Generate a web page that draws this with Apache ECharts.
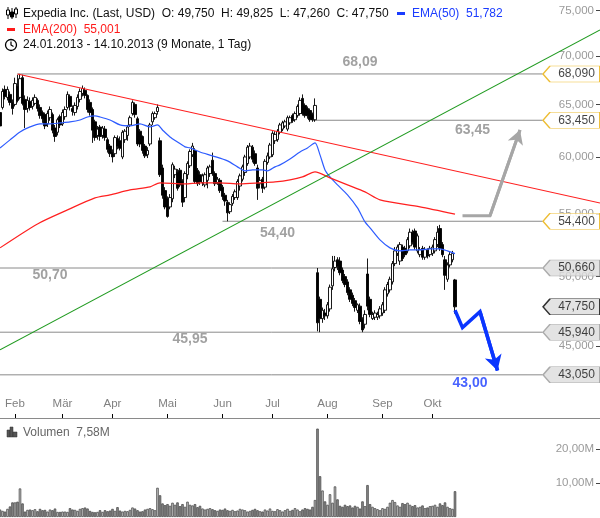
<!DOCTYPE html>
<html><head><meta charset="utf-8">
<script src="https://cdn.jsdelivr.net/npm/echarts@6.0.0/dist/echarts.min.js"></script>
<style>html,body{margin:0;padding:0;background:#fff}#c{width:600px;height:518px}</style>
</head><body><div id="c"></div><script>
// ---------- DATA ----------
const startDate = '2013-01-24';
const holidays = ['2013-02-18','2013-03-29','2013-05-27','2013-07-04','2013-09-02','2013-11-28','2013-12-25'];
const monthNames = ['Jan','Feb','Mär','Apr','Mai','Jun','Jul','Aug','Sep','Okt','Nov','Dez'];
const lastDataIndex = 182;
// [open, close, low, high]
const candles = [
[64.2,62.9,62.6,64.6],[64.7,66.3,64.5,66.6],[66.5,65.8,65.5,66.9],[65.7,66.5,65.4,66.8],[66.0,65.2,64.9,66.3],
[65.2,64.6,64.0,65.5],[65.0,67.1,64.8,67.7],[66.8,65.4,65.2,68.0],[65.7,67.6,65.5,68.09],[67.7,65.1,64.9,68.0],
[65.5,64.5,62.7,65.9],[64.6,65.4,64.2,65.8],[65.3,64.7,64.4,65.7],[64.8,65.4,64.5,65.7],[65.1,65.7,64.9,66.0],
[65.4,64.6,64.3,65.6],[64.7,63.9,63.6,65.0],[64.2,63.6,63.2,64.4],[64.0,62.9,62.6,64.2],[63.1,64.1,62.8,64.4],
[63.7,64.5,63.4,64.8],[64.0,62.5,62.2,64.2],[62.7,61.9,61.4,63.0],[62.3,63.5,62.0,63.7],[63.8,63.0,62.7,64.0],
[63.1,64.2,62.9,64.5],[63.8,64.5,63.5,64.8],[64.7,66.0,64.5,66.3],[65.8,64.8,64.4,66.0],[64.6,64.3,63.9,64.9],
[64.2,64.9,63.9,65.2],[64.8,65.7,64.5,66.0],[65.5,66.3,65.2,66.6],[66.1,66.6,65.8,66.9],[66.4,65.9,65.6,66.7],
[65.9,64.5,64.2,66.0],[65.2,64.2,63.9,65.5],[64.5,62.5,61.3,64.7],[63.3,61.8,61.5,63.5],[62.0,62.6,61.6,62.9],
[62.8,61.9,61.5,63.0],[62.0,62.7,61.7,62.9],[62.6,61.8,61.5,62.9],[61.6,60.7,60.4,61.8],[61.0,60.3,60.0,61.2],
[60.4,60.0,59.5,60.7],[60.3,61.8,60.0,62.0],[61.7,61.0,60.7,62.0],[61.5,60.8,60.6,61.9],[60.0,62.3,59.8,62.5],
[61.6,62.4,61.3,62.6],[62.0,62.8,61.5,63.0],[63.0,63.7,62.8,63.9],[64.1,65.2,63.9,65.4],[65.0,64.0,63.7,65.2],
[63.6,61.2,61.0,63.8],[62.4,61.2,60.9,62.6],[61.9,60.6,60.3,62.0],[61.0,60.1,59.9,61.2],[60.2,60.6,59.9,60.9],
[61.2,63.0,61.0,63.2],[63.3,64.1,63.0,64.3],[63.7,64.1,63.5,64.3],[64.3,64.7,64.0,65.0],[61.5,58.4,58.2,61.8],
[59.0,56.6,56.3,59.3],[57.0,55.6,55.4,57.3],[56.3,54.8,54.7,56.5],[55.6,56.4,55.4,56.7],[56.3,59.3,56.0,59.5],
[58.4,58.9,58.1,59.2],[58.6,57.2,57.0,58.9],[58.8,57.5,57.3,59.0],[57.8,56.0,55.6,58.0],[56.4,58.5,56.0,58.7],
[58.4,59.4,58.0,59.6],[59.2,60.5,59.0,60.7],[60.2,61.0,60.0,61.3],[60.6,57.8,57.6,60.8],[58.8,57.6,57.4,59.0],
[58.4,57.8,57.5,58.7],[57.7,58.3,57.4,58.5],[57.5,58.4,57.3,58.6],[57.9,59.0,57.2,59.2],[58.5,59.1,58.2,59.3],
[59.7,58.5,58.3,60.4],[58.5,57.6,57.4,58.7],[57.7,58.0,57.5,58.2],[57.9,57.0,56.8,58.1],[57.3,56.5,56.2,57.5],
[56.6,56.1,55.7,56.8],[56.0,55.1,54.4,56.2],[55.2,55.8,55.0,56.0],[55.9,56.5,55.7,56.7],[56.4,56.9,56.2,57.1],
[56.4,57.8,56.2,58.0],[57.4,58.3,57.0,58.5],[58.0,59.1,57.8,59.3],[58.6,60.0,58.3,60.2],[59.4,60.9,59.2,61.1],
[60.0,61.0,59.8,61.3],[60.9,59.8,59.5,61.1],[60.3,59.4,59.2,60.6],[59.0,57.2,56.2,59.3],[57.6,57.9,57.2,58.2],
[58.0,57.2,56.8,58.2],[57.3,59.6,57.1,59.8],[59.5,60.1,59.3,60.4],[60.0,61.1,59.8,61.3],[60.2,62.2,60.0,62.4],
[61.5,62.1,61.2,62.4],[61.6,62.4,61.4,62.6],[62.3,63.0,62.1,63.2],[62.6,63.2,62.4,63.4],[62.9,63.3,62.7,63.5],
[62.6,63.7,62.4,63.9],[63.2,63.7,63.0,63.9],[63.9,63.4,63.2,64.1],[63.5,64.1,63.3,64.3],[63.9,64.8,63.7,65.0],
[64.1,65.4,63.9,65.7],[65.6,64.1,63.9,66.0],[64.9,63.9,63.7,65.1],[64.6,63.9,63.6,64.8],[64.4,63.5,63.3,64.6],
[64.0,63.5,63.3,64.2],[63.5,64.9,63.3,65.6],[50.3,46.6,46.0,50.66],[48.3,46.9,45.94,48.5],[46.9,47.5,46.6,47.7],
[47.3,47.1,46.8,47.6],[47.1,47.9,46.9,48.1],[47.6,49.2,47.4,49.4],[49.3,50.6,49.0,51.6],[50.7,51.2,50.4,51.6],
[51.3,50.8,50.5,51.5],[51.2,50.3,50.1,51.5],[50.5,49.7,49.5,50.7],[50.0,49.4,49.2,50.2],[49.6,48.8,48.6,49.8],
[49.0,48.3,48.1,49.2],[48.6,48.0,47.8,48.8],[48.2,47.7,47.4,48.4],[47.5,47.9,47.3,48.0],[47.8,46.7,46.5,48.0],
[46.8,46.1,45.94,47.0],[46.5,47.2,46.2,47.5],[50.2,47.8,47.5,51.4],[48.3,47.2,47.0,48.5],[46.9,47.2,46.8,47.4],
[47.0,47.3,46.8,47.5],[47.0,47.2,46.8,47.4],[47.1,47.6,46.9,47.8],[47.3,47.9,47.1,48.1],[47.5,49.0,47.3,49.2],
[48.7,49.4,48.5,49.6],[49.0,49.8,48.8,50.0],[49.6,51.0,49.4,51.2],[51.0,52.0,50.8,52.3],[51.8,52.3,51.6,52.5],
[51.2,52.5,50.9,52.7],[52.3,51.4,51.2,52.5],[52.2,51.7,51.5,52.4],[52.0,52.9,51.8,53.1],[52.4,53.5,52.2,53.8],
[53.5,52.7,52.5,53.7],[53.6,52.3,52.1,53.8],[52.0,53.2,51.8,53.4],[51.7,52.1,51.5,52.3],[52.2,51.5,51.3,52.4],
[51.5,52.1,51.3,52.3],[52.0,51.6,51.4,52.2],[51.7,52.2,51.5,52.4],[51.8,52.3,51.6,52.5],[52.0,52.9,51.8,53.1],
[52.5,53.5,52.3,54.0],[53.8,52.2,52.0,54.1],[52.5,51.7,51.5,52.7],[51.3,50.1,49.0,51.6],[49.8,50.9,49.6,51.1],
[50.9,51.7,50.7,51.9],[51.3,51.8,51.1,52.0],[49.75,47.75,47.26,49.825]
];
// volume in millions
const volume = [
2.2,1.8,1.6,2.4,3.1,4.3,4.3,4.5,8.4,4.0,
1.6,2.1,2.2,2.0,2.3,1.7,2.4,2.0,2.1,1.6,
2.2,2.0,2.5,1.5,1.5,1.6,1.6,1.5,2.6,2.2,
2.1,1.8,2.4,2.6,2.8,2.5,1.8,1.5,1.4,1.5,
2.0,1.5,2.0,1.7,1.9,2.4,1.8,2.9,1.9,1.6,
1.8,1.7,2.1,2.8,2.5,2.0,1.6,1.7,2.2,2.4,
2.6,2.3,2.0,8.6,6.4,4.0,3.5,3.8,3.3,4.2,
3.6,4.3,3.2,3.8,3.0,4.5,3.6,3.4,3.8,2.9,
3.3,2.5,2.2,2.4,2.6,2.3,2.0,1.8,2.2,2.1,
2.5,2.0,1.8,2.1,1.7,1.9,2.4,2.2,2.0,1.6,
1.8,2.1,2.4,2.0,1.7,1.6,2.2,1.9,2.5,1.8,
1.7,2.3,2.0,1.6,2.0,2.4,1.8,2.1,2.6,2.2,
1.7,2.2,2.6,2.4,2.2,3.0,5.0,26.0,12.0,7.8,
4.6,3.6,6.7,4.2,9.0,5.2,3.3,3.0,3.6,3.2,
3.4,2.8,3.3,3.0,2.5,4.6,3.2,9.4,3.8,3.0,
2.6,2.3,2.0,2.6,2.4,3.0,4.2,5.0,4.4,3.4,
3.0,4.1,3.8,4.2,3.6,3.2,3.5,2.8,3.0,3.4,
2.6,2.8,3.2,3.3,3.6,3.0,4.0,3.5,4.3,3.0,
2.6,2.4,7.58
];
// [day index, value]
const ema50 = [[0,60.83],[4,61.58],[8,62.33],[12,62.81],[16,63.10],[20,63.10],[24,63.19],[28,63.29],[32,63.48],[35,63.77],[38,63.87],[40,63.77],[44,63.48],[48,63.00],[52,62.91],[56,63.10],[60,62.81],[63,63.00],[65,62.52],[68,61.86],[71,61.39],[74,60.93],[76,60.83],[80,60.46],[85,60.10],[91,59.64],[95,59.10],[98,58.74],[101,58.83],[105,58.83],[107,58.74],[110,59.10],[112,59.28],[116,59.82],[120,60.46],[123,60.83],[126,61.30],[128,60.19],[130,58.83],[132,58.20],[135,57.50],[139,56.63],[143,55.52],[146,54.35],[148,53.86],[152,52.88],[156,52.24],[160,52.00],[164,52.08],[168,52.08],[172,52.16],[176,52.16],[179,52.00],[182,51.78]];
const ema200 = [[0,52.24],[15,54.18],[27,55.35],[38,56.37],[44,56.63],[52,57.06],[60,57.33],[64,57.68],[74,57.59],[80,57.68],[88,57.68],[96,57.59],[104,57.68],[110,57.76],[116,57.94],[121,58.20],[126,58.65],[132,58.12],[139,57.50],[146,56.89],[152,56.20],[168,55.61],[182,55.00]];
const redTrend = [[7,68.09],[240,55.94]];
const greenTrend = [[0,44.72],[240,72.81]];
const levels = [{v:68.09,from:7},{v:63.45,from:125},{v:54.40,from:89},{v:50.66,from:0},{v:45.94,from:0},{v:43.05,from:0}];
const levelEnd = 217;
const tagValues = [68.09,63.45,54.40,50.66,47.75,45.94,43.05];
const tagKinds  = ['level','level','level','gray','last','gray','gray'];
const annotations = [
  {text:'68,09', i:144, v:69.35, color:'#8a8a8a'},
  {text:'63,45', i:189, v:62.52, color:'#8a8a8a'},
  {text:'54,40', i:111, v:53.44, color:'#8a8a8a'},
  {text:'50,70', i:20,  v:50.14, color:'#8a8a8a'},
  {text:'45,95', i:76,  v:45.49, color:'#8a8a8a'},
  {text:'43,00', i:188, v:42.52, color:'#1a3cff'}
];
const grayArrow = [[185,54.86],[196,54.86],[208,62.52]];
const blueArrow = [[182,47.50],[185,46.26],[192,47.40],[199,43.34]];
const priceTicks = [45,50,55,60,65,70,75];
const volumeTicks = [10,20];
const header = {name:'Expedia Inc. (Last, USD)', o:'49,750', h:'49,825', l:'47,260', c:'47,750', ema50:'51,782', ema200:'55,001', range:'24.01.2013 - 14.10.2013 (9 Monate, 1 Tag)', vol:'7,58M'};

// ---------- BUILD ----------
function pad(n){return (n<10?'0':'')+n;}
const categories = [];
(function(){
  let d = new Date(startDate+'T00:00:00Z');
  while (categories.length < 241) {
    const s = d.getUTCFullYear()+'-'+pad(d.getUTCMonth()+1)+'-'+pad(d.getUTCDate());
    const wd = d.getUTCDay();
    if (wd !== 0 && wd !== 6 && holidays.indexOf(s) < 0) categories.push(s);
    d = new Date(d.getTime()+86400000);
  }
})();
function monthOf(s){return parseInt(s.slice(5,7),10)-1;}
function isMonthStart(idx){
  return idx>0 && idx<=lastDataIndex && monthOf(categories[idx])!==monthOf(categories[idx-1]);
}
function fmt(v,d){return v.toFixed(d).replace('.',',');}
const FONT = '"Liberation Sans", Arial, sans-serif';

const volData = volume.map((v,i)=>({
  value:v,
  itemStyle:{color: candles[i][1] < candles[i][0] ? '#8e8e8e' : '#c4c4c4'}
}));

const tagStyles = {
  level:{fill:'#ffffff', stroke:'#e8ad00'},
  gray:{fill:'#dcdcdc', stroke:'#9a9a9a'},
  last:{fill:'#dcdcdc', stroke:'#000000'}
};
const tagData = tagValues.map((v,k)=>({
  value:[228, v],
  itemStyle:{color:tagStyles[tagKinds[k]].fill, borderColor:tagStyles[tagKinds[k]].stroke, borderWidth:1},
  label:{formatter: fmt(v,3)}
}));

const series = [];
levels.forEach(l=>{
  series.push({type:'line', xAxisIndex:0, yAxisIndex:0, data:[[l.from,l.v],[levelEnd,l.v]], symbol:'none',
    lineStyle:{color:'#8a8a8a', width:1}, z:1, silent:true});
});
series.push({type:'candlestick', xAxisIndex:0, yAxisIndex:0, data:candles, barWidth:2.6,
  itemStyle:{color:'#ffffff', color0:'#000000', borderColor:'#000000', borderColor0:'#000000', borderWidth:0.9}, z:3});
series.push({type:'line', data:ema50, symbol:'none', smooth:0.25, lineStyle:{color:'#2e5cff', width:1.2}, z:4});
series.push({type:'line', data:ema200, symbol:'none', smooth:0.25, lineStyle:{color:'#ff2020', width:1.2}, z:4});
series.push({type:'line', data:redTrend, symbol:'none', lineStyle:{color:'#ff2020', width:1.1}, z:4});
series.push({type:'line', data:greenTrend, symbol:'none', lineStyle:{color:'#1f9a1f', width:1.1}, z:4});
function arrowSeries(pts, color, width, headSize){
  const n = pts.length;
  return {type:'line', data:pts, symbol:'none', lineStyle:{color:color, width:width, join:'miter'}, z:6,
    markLine:{silent:true, animation:false, symbol:['none','arrow'], symbolSize:headSize,
      lineStyle:{color:color, width:width, type:'solid'}, label:{show:false},
      data:[[{coord:pts[n-2]},{coord:pts[n-1]}]]}};
}
series.push(arrowSeries(grayArrow,'#a6a6a6',3,[12,14]));
series.push(arrowSeries(blueArrow,'#0a35ff',3.5,[13,15]));
series.push({type:'scatter', data:annotations.map(a=>({value:[a.i,a.v], label:{formatter:a.text, color:a.color}})),
  symbolSize:0, z:7, silent:true,
  label:{show:true, position:'inside', fontFamily:FONT, fontSize:14, fontWeight:'bold'}});
series.push({type:'scatter', data:tagData, z:20, silent:true,
  symbol:'path://M0,8 L7,0 L57,0 L57,16 L7,16 Z', symbolSize:[57,16], symbolOffset:[1.5,0],
  label:{show:true, position:'inside', offset:[5,0], color:'#111', fontFamily:FONT, fontSize:12}});
series.push({type:'bar', xAxisIndex:1, yAxisIndex:1, data:volData, barCategoryGap:'0%', barWidth:2.5,
  itemStyle:{borderColor:'#4a4a4a', borderWidth:0.8}, silent:true});

const option = {
  animation:false,
  backgroundColor:'#fff',
  textStyle:{fontFamily:FONT},
  grid:[
    {left:0, right:0, top:0, height:418, containLabel:false},
    {left:0, right:0, top:419, height:98, containLabel:false}
  ],
  xAxis:[
    {type:'category', gridIndex:0, data:categories, boundaryGap:false,
      axisLine:{show:true, lineStyle:{color:'#8a8a8a', width:1}},
      axisTick:{show:true, inside:true, length:4, interval:(i)=>isMonthStart(i), lineStyle:{color:'#000'}},
      axisLabel:{show:true, inside:true, margin:8, interval:(i)=>isMonthStart(i),
        formatter:(v)=>monthNames[monthOf(v)], color:'#808080', fontSize:11.5, fontFamily:FONT},
      splitLine:{show:false}},
    {type:'category', gridIndex:1, data:categories, boundaryGap:false,
      axisLine:{show:false}, axisTick:{show:false}, axisLabel:{show:false}, splitLine:{show:false}}
  ],
  yAxis:[
    {type:'log', gridIndex:0, position:'right', min:40.31, max:76.21, logBase:10,
      axisLine:{show:false}, splitLine:{show:false}, minorTick:{show:false},
      axisTick:{show:true, inside:true, length:4, customValues:priceTicks, lineStyle:{color:'#444'}},
      axisLabel:{show:true, inside:true, margin:6, customValues:priceTicks, formatter:(v)=>fmt(v,3),
        color:'#9a9a9a', fontSize:11.5, fontFamily:FONT}},
    {type:'value', gridIndex:1, position:'right', min:0, max:28.82,
      axisLine:{show:false}, splitLine:{show:false},
      axisTick:{show:true, inside:true, length:4, customValues:volumeTicks, lineStyle:{color:'#444'}},
      axisLabel:{show:true, inside:true, margin:6, customValues:volumeTicks, formatter:(v)=>fmt(v,2)+'M',
        color:'#9a9a9a', fontSize:11.5, fontFamily:FONT}}
  ],
  graphic:[
    {type:'line', shape:{x1:8,y1:7,x2:8,y2:19}, style:{stroke:'#000', lineWidth:1}},
    {type:'rect', shape:{x:6.5,y:10,width:3,height:5}, style:{fill:'#fff', stroke:'#000', lineWidth:1}},
    {type:'line', shape:{x1:12,y1:8,x2:12,y2:19}, style:{stroke:'#000', lineWidth:1}},
    {type:'rect', shape:{x:10.5,y:12,width:3,height:5}, style:{fill:'#000', stroke:'#000', lineWidth:1}},
    {type:'line', shape:{x1:16,y1:7,x2:16,y2:18}, style:{stroke:'#000', lineWidth:1}},
    {type:'rect', shape:{x:14.5,y:9,width:3,height:5}, style:{fill:'#fff', stroke:'#000', lineWidth:1}},
    {type:'text', x:23, y:13.5, style:{text:header.name+'  O: '+header.o+'  H: '+header.h+'  L: '+header.l+'  C: '+header.c,
      fill:'#111', font:'12px '+FONT, verticalAlign:'middle'}},
    {type:'rect', shape:{x:397,y:12,width:8,height:3}, style:{fill:'#1a3cff'}},
    {type:'text', x:412, y:13.5, style:{text:'EMA(50)  '+header.ema50, fill:'#1a3cff', font:'12px '+FONT, verticalAlign:'middle'}},
    {type:'rect', shape:{x:7,y:28,width:8,height:3}, style:{fill:'#ff1a1a'}},
    {type:'text', x:23, y:29.5, style:{text:'EMA(200)  '+header.ema200, fill:'#ff1a1a', font:'12px '+FONT, verticalAlign:'middle'}},
    {type:'circle', shape:{cx:11,cy:45,r:5.5}, style:{fill:'none', stroke:'#000', lineWidth:1.3}},
    {type:'polyline', shape:{points:[[11,41.5],[11,45],[13.5,46.5]]}, style:{fill:'none', stroke:'#000', lineWidth:1.2}},
    {type:'text', x:23, y:45, style:{text:header.range, fill:'#111', font:'12px '+FONT, verticalAlign:'middle'}},
    {type:'rect', shape:{x:7,y:430,width:3,height:7}, style:{fill:'#555', stroke:'#333', lineWidth:0.5}},
    {type:'rect', shape:{x:10,y:427,width:3,height:10}, style:{fill:'#555', stroke:'#333', lineWidth:0.5}},
    {type:'rect', shape:{x:13,y:432,width:4,height:5}, style:{fill:'#555', stroke:'#333', lineWidth:0.5}},
    {type:'text', x:23, y:432.5, style:{text:'Volumen  '+header.vol, fill:'#666', font:'12px '+FONT, verticalAlign:'middle'}}
  ],
  series:series
};
const chart = echarts.init(document.getElementById('c'), null, {renderer:'canvas'});
chart.setOption(option);
</script></body></html>
